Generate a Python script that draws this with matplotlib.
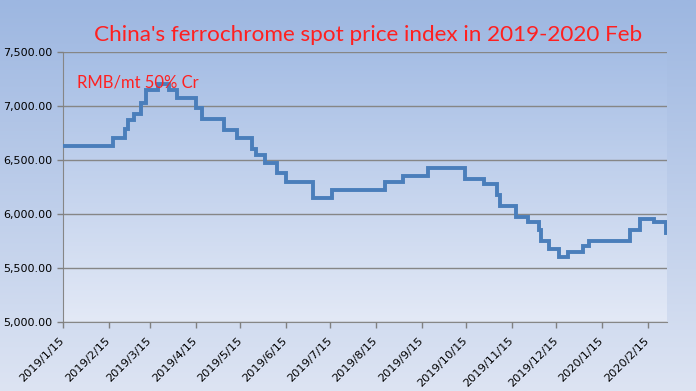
import numpy as np
import matplotlib
matplotlib.use('Agg')
from matplotlib import pyplot as plt
from matplotlib.colors import LinearSegmentedColormap
from matplotlib.ticker import FuncFormatter
import datetime as dt

# price change dates and levels (RMB/mt, 50% Cr)
change_dates = ['2019-01-15', '2019-02-18', '2019-02-26', '2019-02-28', '2019-03-04',
                '2019-03-09', '2019-03-12', '2019-03-20', '2019-03-28', '2019-04-02',
                '2019-04-15', '2019-04-19', '2019-05-04', '2019-05-13', '2019-05-23',
                '2019-05-26', '2019-06-01', '2019-06-09', '2019-06-15', '2019-07-03',
                '2019-07-16', '2019-08-21', '2019-09-02', '2019-09-19', '2019-10-14',
                '2019-10-27', '2019-11-05', '2019-11-07', '2019-11-18', '2019-11-26',
                '2019-12-03', '2019-12-05', '2019-12-10', '2019-12-17', '2019-12-23',
                '2020-01-02', '2020-01-06', '2020-02-03', '2020-02-10', '2020-02-19',
                '2020-02-27']
prices = [6630, 6700, 6790, 6875, 6930,
          7025, 7150, 7200, 7150, 7075,
          6980, 6880, 6780, 6700, 6600,
          6550, 6475, 6380, 6300, 6150,
          6220, 6300, 6350, 6425, 6325,
          6275, 6175, 6075, 5970, 5925,
          5850, 5750, 5675, 5600, 5650,
          5700, 5750, 5850, 5950, 5925,
          5820]
tick_dates = ['2019-01-15', '2019-02-15', '2019-03-15', '2019-04-15', '2019-05-15',
              '2019-06-15', '2019-07-15', '2019-08-15', '2019-09-15', '2019-10-15',
              '2019-11-15', '2019-12-15', '2020-01-15', '2020-02-15']
y_ticks = [5000, 5500, 6000, 6500, 7000, 7500]

dates = [dt.datetime.strptime(d, '%Y-%m-%d') for d in change_dates]
ticks = [dt.datetime.strptime(d, '%Y-%m-%d') for d in tick_dates]
tick_labels = ['%d/%d/%d' % (t.year, t.month, t.day) for t in ticks]

fig = plt.figure(figsize=(6.96, 3.91), dpi=100)

# background gradient for the whole chart
bg = fig.add_axes([0, 0, 1, 1], zorder=-10)
bg_cmap = LinearSegmentedColormap.from_list('bg', ['#9db7e1', '#dde4f3'])
bg.imshow(np.linspace(0, 1, 256).reshape(-1, 1), aspect='auto', cmap=bg_cmap,
          extent=[0, 1, 0, 1])
bg.axis('off')

ax = fig.add_axes([63/696, 1-322/391, (667-63)/696, (322-52)/391])
ax.patch.set_alpha(0)
pa_cmap = LinearSegmentedColormap.from_list('pa', ['#a6bee5', '#e3e9f6'])
ax.imshow(np.linspace(0, 1, 256).reshape(-1, 1), aspect='auto', cmap=pa_cmap,
          extent=[0, 1, 0, 1], transform=ax.transAxes, zorder=0)

ax.plot(dates, prices, drawstyle='steps-post', color='#4a7ebb', lw=2.8,
        zorder=3, solid_joinstyle='miter')

ax.set_xlim(dt.datetime(2019, 1, 15), dt.datetime(2020, 2, 28))
ax.set_ylim(5000, 7500)
ax.set_yticks(y_ticks)
ax.yaxis.set_major_formatter(FuncFormatter(lambda v, p: '{:,.2f}'.format(v)))
ax.set_xticks(ticks)
ax.set_xticklabels(tick_labels, rotation=45, ha='right', va='center',
                   rotation_mode='anchor')
ax.tick_params(axis='both', labelsize=8, colors='#808080', labelcolor='black',
               length=4, width=1)
ax.tick_params(axis='x', labelsize=8.2, pad=8)
ax.grid(axis='y', color='#868686', lw=1)
ax.set_axisbelow(False)
for s in ['top', 'right']:
    ax.spines[s].set_visible(False)
for s in ['left', 'bottom']:
    ax.spines[s].set_color('#868686')

fig.text(368/696, 1-35/391, "China's ferrochrome spot price index in 2019-2020 Feb",
         color='#ff2020', fontsize=16.2, family='Lato', ha='center', va='center')
ax.text((77-63)/604, 1-(83-52)/270, 'RMB/mt 50% Cr', color='#ff2020', fontsize=12,
        family='Lato', transform=ax.transAxes, ha='left', va='center', zorder=5)

fig.savefig('out.png', dpi=100)
